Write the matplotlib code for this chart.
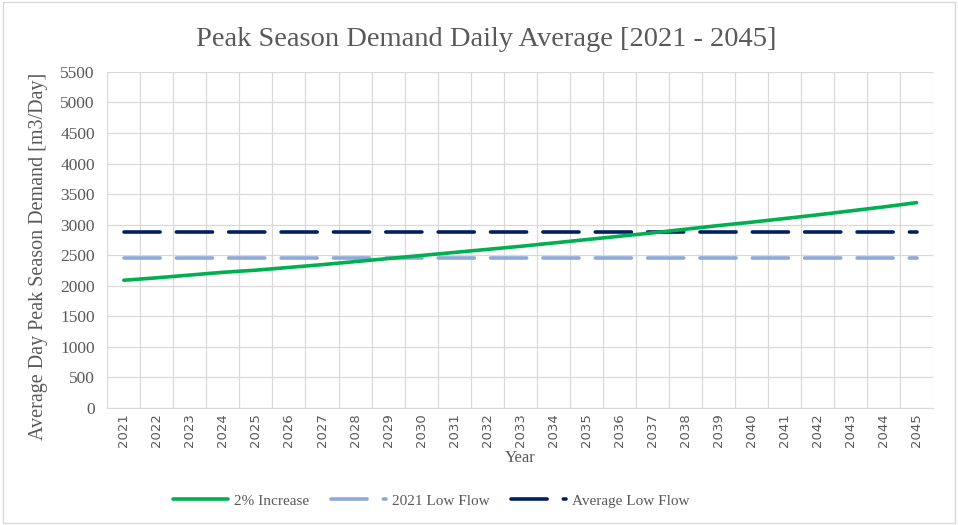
import matplotlib.pyplot as plt

years = list(range(2021, 2046))
increase_2pct = [2090, 2130, 2175, 2220, 2255, 2300, 2345, 2395, 2445, 2495,
                 2545, 2595, 2645, 2700, 2755, 2810, 2865, 2925, 2985, 3040,
                 3100, 3160, 3225, 3290, 3360]
low_flow_2021 = [2460] * len(years)
avg_low_flow = [2885] * len(years)

serif = ['Liberation Serif', 'DejaVu Serif']
grey = '#595959'

fig = plt.figure(figsize=(9.58, 5.25), dpi=100)
ax = fig.add_axes([0.112, 0.223, 0.862, 0.64])

x = list(range(len(years)))
ax.plot(x, increase_2pct, color='#00b050', lw=2.6, label='2% Increase', zorder=3,
        solid_capstyle='round')
ax.plot(x, low_flow_2021, color='#8eaadb', lw=2.6, label='2021 Low Flow', zorder=2,
        dashes=(10, 4.5), dash_capstyle='round')
ax.plot(x, avg_low_flow, color='#002060', lw=2.6, label='Average Low Flow', zorder=2,
        dashes=(10, 4.5), dash_capstyle='round')

ax.set_xlim(-0.5, len(years) - 0.5)
ax.set_ylim(0, 5500)
ax.set_yticks(range(0, 5501, 500))
ax.set_xticks(x)
ax.set_xticklabels([str(y) for y in years], rotation=90, fontsize=9.5,
                   family='DejaVu Sans', color=grey)
for lbl in ax.get_yticklabels():
    lbl.set_family(serif)
    lbl.set_fontsize(12.5)
    lbl.set_color(grey)

# category-style grid: vertical lines between categories
for i in range(len(years) + 1):
    ax.axvline(i - 0.5, color='#d9d9d9', lw=0.9, zorder=0)
ax.yaxis.grid(True, color='#d9d9d9', lw=0.9, zorder=0)
ax.set_axisbelow(True)
ax.tick_params(axis='x', length=0, pad=4)
ax.tick_params(axis='y', length=0, pad=9)
for s in ax.spines.values():
    s.set_visible(False)
ax.spines['bottom'].set_visible(True)
ax.spines['bottom'].set_color('#d9d9d9')

fig.text(0.508, 0.925, 'Peak Season Demand Daily Average [2021 - 2045]', family=serif,
         fontsize=20.5, color=grey, ha='center', va='center')
ax.set_xlabel('Year', family=serif, fontsize=12, color=grey, labelpad=2)
ax.set_ylabel('Average Day Peak Season Demand [m3/Day]', family=serif,
              fontsize=14.5, color=grey, va='center')
ax.yaxis.set_label_coords(-0.083, 0.45)

leg = fig.legend(loc='lower center', bbox_to_anchor=(0.45, 0.007), ncol=3,
                 frameon=False, prop={'family': serif, 'size': 11},
                 handlelength=3.6, columnspacing=1.4, handletextpad=0.4)
for t in leg.get_texts():
    t.set_color(grey)

# outer chart border
fig.patches.append(plt.Rectangle((0.003, 0.004), 0.994, 0.992, transform=fig.transFigure,
                                 fill=False, edgecolor='#d9d9d9', lw=1))

fig.savefig('out.png', dpi=100)
